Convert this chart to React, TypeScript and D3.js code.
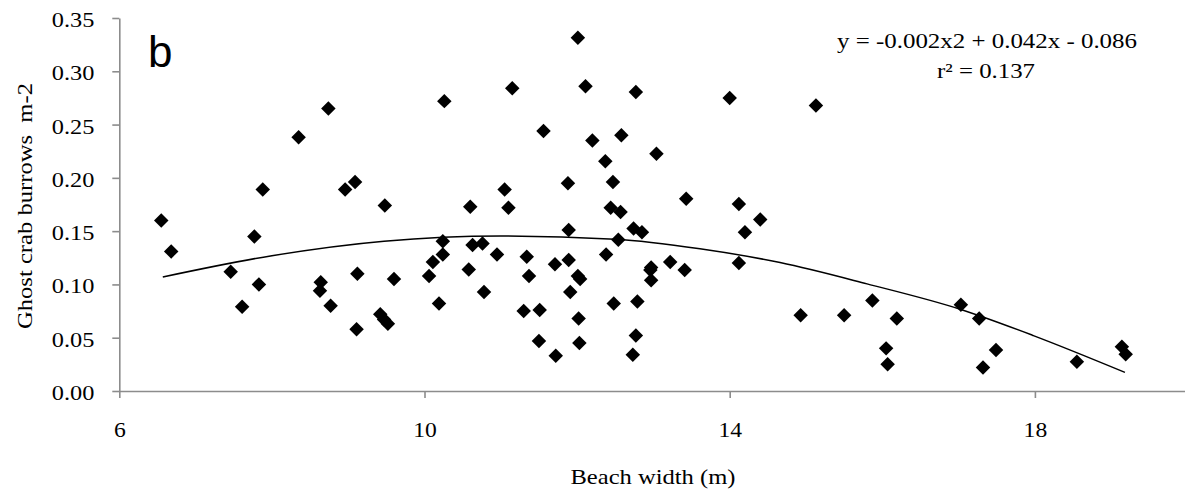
import { useEffect, useRef } from "react";
import * as d3 from "d3";

// beach width (m) / burrow density pairs
const beachWidth = [
  6.55, 6.68, 7.46, 7.61, 7.77, 7.83, 7.88, 8.35, 8.63, 8.64,
  8.74, 8.77, 8.96, 9.09, 9.11, 9.12, 9.42, 9.47, 9.52, 9.48,
  9.6, 10.06, 10.11, 10.19, 10.24, 10.24, 10.26, 10.58, 10.6, 10.63,
  10.76, 10.78, 10.95, 11.05, 11.1, 11.15, 11.3, 11.34, 11.37, 11.5,
  11.51, 11.56, 11.71, 11.72, 11.88, 11.89, 11.89, 11.91, 12.01, 12.01,
  12.04, 12.02, 12.03, 12.11, 12.2, 12.37, 12.38, 12.44, 12.47, 12.48,
  12.54, 12.57, 12.58, 12.73, 12.74, 12.77, 12.77, 12.79, 12.85, 12.96,
  12.97, 12.97, 13.04, 13.22, 13.41, 13.43, 14.0, 14.12, 14.12, 14.2,
  14.4, 14.93, 15.13, 15.5, 15.87, 16.05, 16.07, 16.19, 17.03, 17.27,
  17.32, 17.49, 18.55, 19.14, 19.19,
];
const burrows = [
  0.16, 0.131, 0.112, 0.079, 0.145, 0.1, 0.189, 0.238, 0.094, 0.102,
  0.265, 0.08, 0.189, 0.196, 0.058, 0.11, 0.072, 0.067, 0.063, 0.174,
  0.105, 0.108, 0.121, 0.082, 0.1405, 0.128, 0.272, 0.114, 0.173, 0.137,
  0.1385, 0.093, 0.128, 0.189, 0.172, 0.284, 0.075, 0.126, 0.108, 0.047,
  0.076, 0.244, 0.119, 0.033, 0.195, 0.151, 0.123, 0.093, 0.3315, 0.108,
  0.105, 0.068, 0.045, 0.286, 0.235, 0.2155, 0.128, 0.172, 0.196, 0.082,
  0.142, 0.168, 0.24, 0.034, 0.1525, 0.2806, 0.052, 0.084, 0.149, 0.1135,
  0.116, 0.104, 0.2227, 0.121, 0.1135, 0.1805, 0.275, 0.1755, 0.12, 0.149,
  0.161, 0.071, 0.268, 0.071, 0.085, 0.04, 0.025, 0.068, 0.081, 0.068,
  0.022, 0.0385, 0.0275, 0.0416, 0.0344,
];

// polynomial trend line
const trendX = [6.57, 8.0, 9.47, 11.0, 12.5, 13.61, 14.66, 15.8, 17.03, 17.98, 19.18];
const trendY = [0.107, 0.127, 0.1406, 0.1455, 0.1425, 0.1335, 0.1205, 0.1005, 0.0765, 0.052, 0.0175];

const xTicks = [6, 10, 14, 18];
const yTicks = [0, 0.05, 0.1, 0.15, 0.2, 0.25, 0.3, 0.35];

const equation = "y = -0.002x2 + 0.042x - 0.086";
const rSquared = "r² = 0.137";

const W = 1185;
const H = 495;
const left = 119.3;
const top = 18;
const bottom = 391;
const axisColor = "#8c8c8c";
const serif = "'Liberation Serif', 'Times New Roman', serif";

export default function App() {
  const xAxisRef = useRef<SVGGElement>(null);
  const yAxisRef = useRef<SVGGElement>(null);

  const x = d3.scaleLinear().domain([6, 20]).range([left, left + 14 * 76.3]);
  const y = d3.scaleLinear().domain([0, 0.35]).range([bottom, top]);

  const points = beachWidth.map((bw, i) => ({ x: bw, y: burrows[i] }));
  const trend = trendX.map((tx, i) => [tx, trendY[i]] as [number, number]);

  const line = d3.line<[number, number]>()
    .x(d => x(d[0]))
    .y(d => y(d[1]))
    .curve(d3.curveMonotoneX);

  const diamond = d3.symbol(d3.symbolSquare, 105)();

  useEffect(() => {
    const gx = d3.select(xAxisRef.current);
    gx.call(d3.axisBottom(x).tickValues(xTicks).tickSize(7).tickSizeOuter(0).tickFormat(d3.format("d")));
    gx.select(".domain").attr("stroke", axisColor).attr("stroke-width", 1.6);
    gx.selectAll(".tick line").attr("stroke", axisColor).attr("stroke-width", 1.6);
    gx.selectAll<SVGTextElement, number>(".tick text")
      .attr("fill", "#000")
      .attr("font-family", serif)
      .attr("font-size", 22)
      .attr("dy", null)
      .attr("y", 46)
      .attr("textLength", d => String(d).length * 11.8)
      .attr("lengthAdjust", "spacingAndGlyphs");

    const gy = d3.select(yAxisRef.current);
    gy.call(d3.axisLeft(y).tickValues(yTicks).tickSize(7).tickSizeOuter(0).tickFormat(d3.format(".2f")));
    gy.select(".domain").attr("stroke", axisColor).attr("stroke-width", 1.6);
    gy.selectAll(".tick line").attr("stroke", axisColor).attr("stroke-width", 1.6);
    gy.selectAll(".tick text")
      .attr("fill", "#000")
      .attr("font-family", serif)
      .attr("font-size", 22)
      .attr("dy", null)
      .attr("y", 8.5)
      .attr("x", -25)
      .attr("textLength", 42.6)
      .attr("lengthAdjust", "spacingAndGlyphs");

    return () => {
      gx.selectAll("*").remove();
      gy.selectAll("*").remove();
    };
  }, []);

  return (
    <svg width={W} height={H} style={{ position: "absolute", left: 0, top: 0, background: "#fff" }}>
      <g ref={xAxisRef} transform={`translate(0,${bottom})`} />
      <g ref={yAxisRef} transform={`translate(${left},0)`} />

      <path d={line(trend) ?? ""} fill="none" stroke="#000" strokeWidth={1.5} />

      <g fill="#000">
        {points.map((p, i) => (
          <path key={i} d={diamond ?? ""} transform={`translate(${x(p.x)},${y(p.y)}) rotate(45)`} />
        ))}
      </g>

      <text x={148} y={67} fontFamily="'Liberation Sans', Arial, sans-serif" fontSize={44}>b</text>

      <text x={987} y={48} textAnchor="middle" fontFamily={serif} fontSize={21}
        textLength={300} lengthAdjust="spacingAndGlyphs">{equation}</text>
      <text x={986} y={78} textAnchor="middle" fontFamily={serif} fontSize={21}
        textLength={98} lengthAdjust="spacingAndGlyphs">{rSquared}</text>

      <text x={653} y={484} textAnchor="middle" fontFamily={serif} fontSize={22}
        textLength={165} lengthAdjust="spacingAndGlyphs">Beach width (m)</text>
      <text transform={`translate(31.5,206) rotate(-90)`} textAnchor="middle" fontFamily={serif} fontSize={22}
        textLength={246} lengthAdjust="spacingAndGlyphs" xmlSpace="preserve">Ghost crab burrows  m-2</text>
    </svg>
  );
}
